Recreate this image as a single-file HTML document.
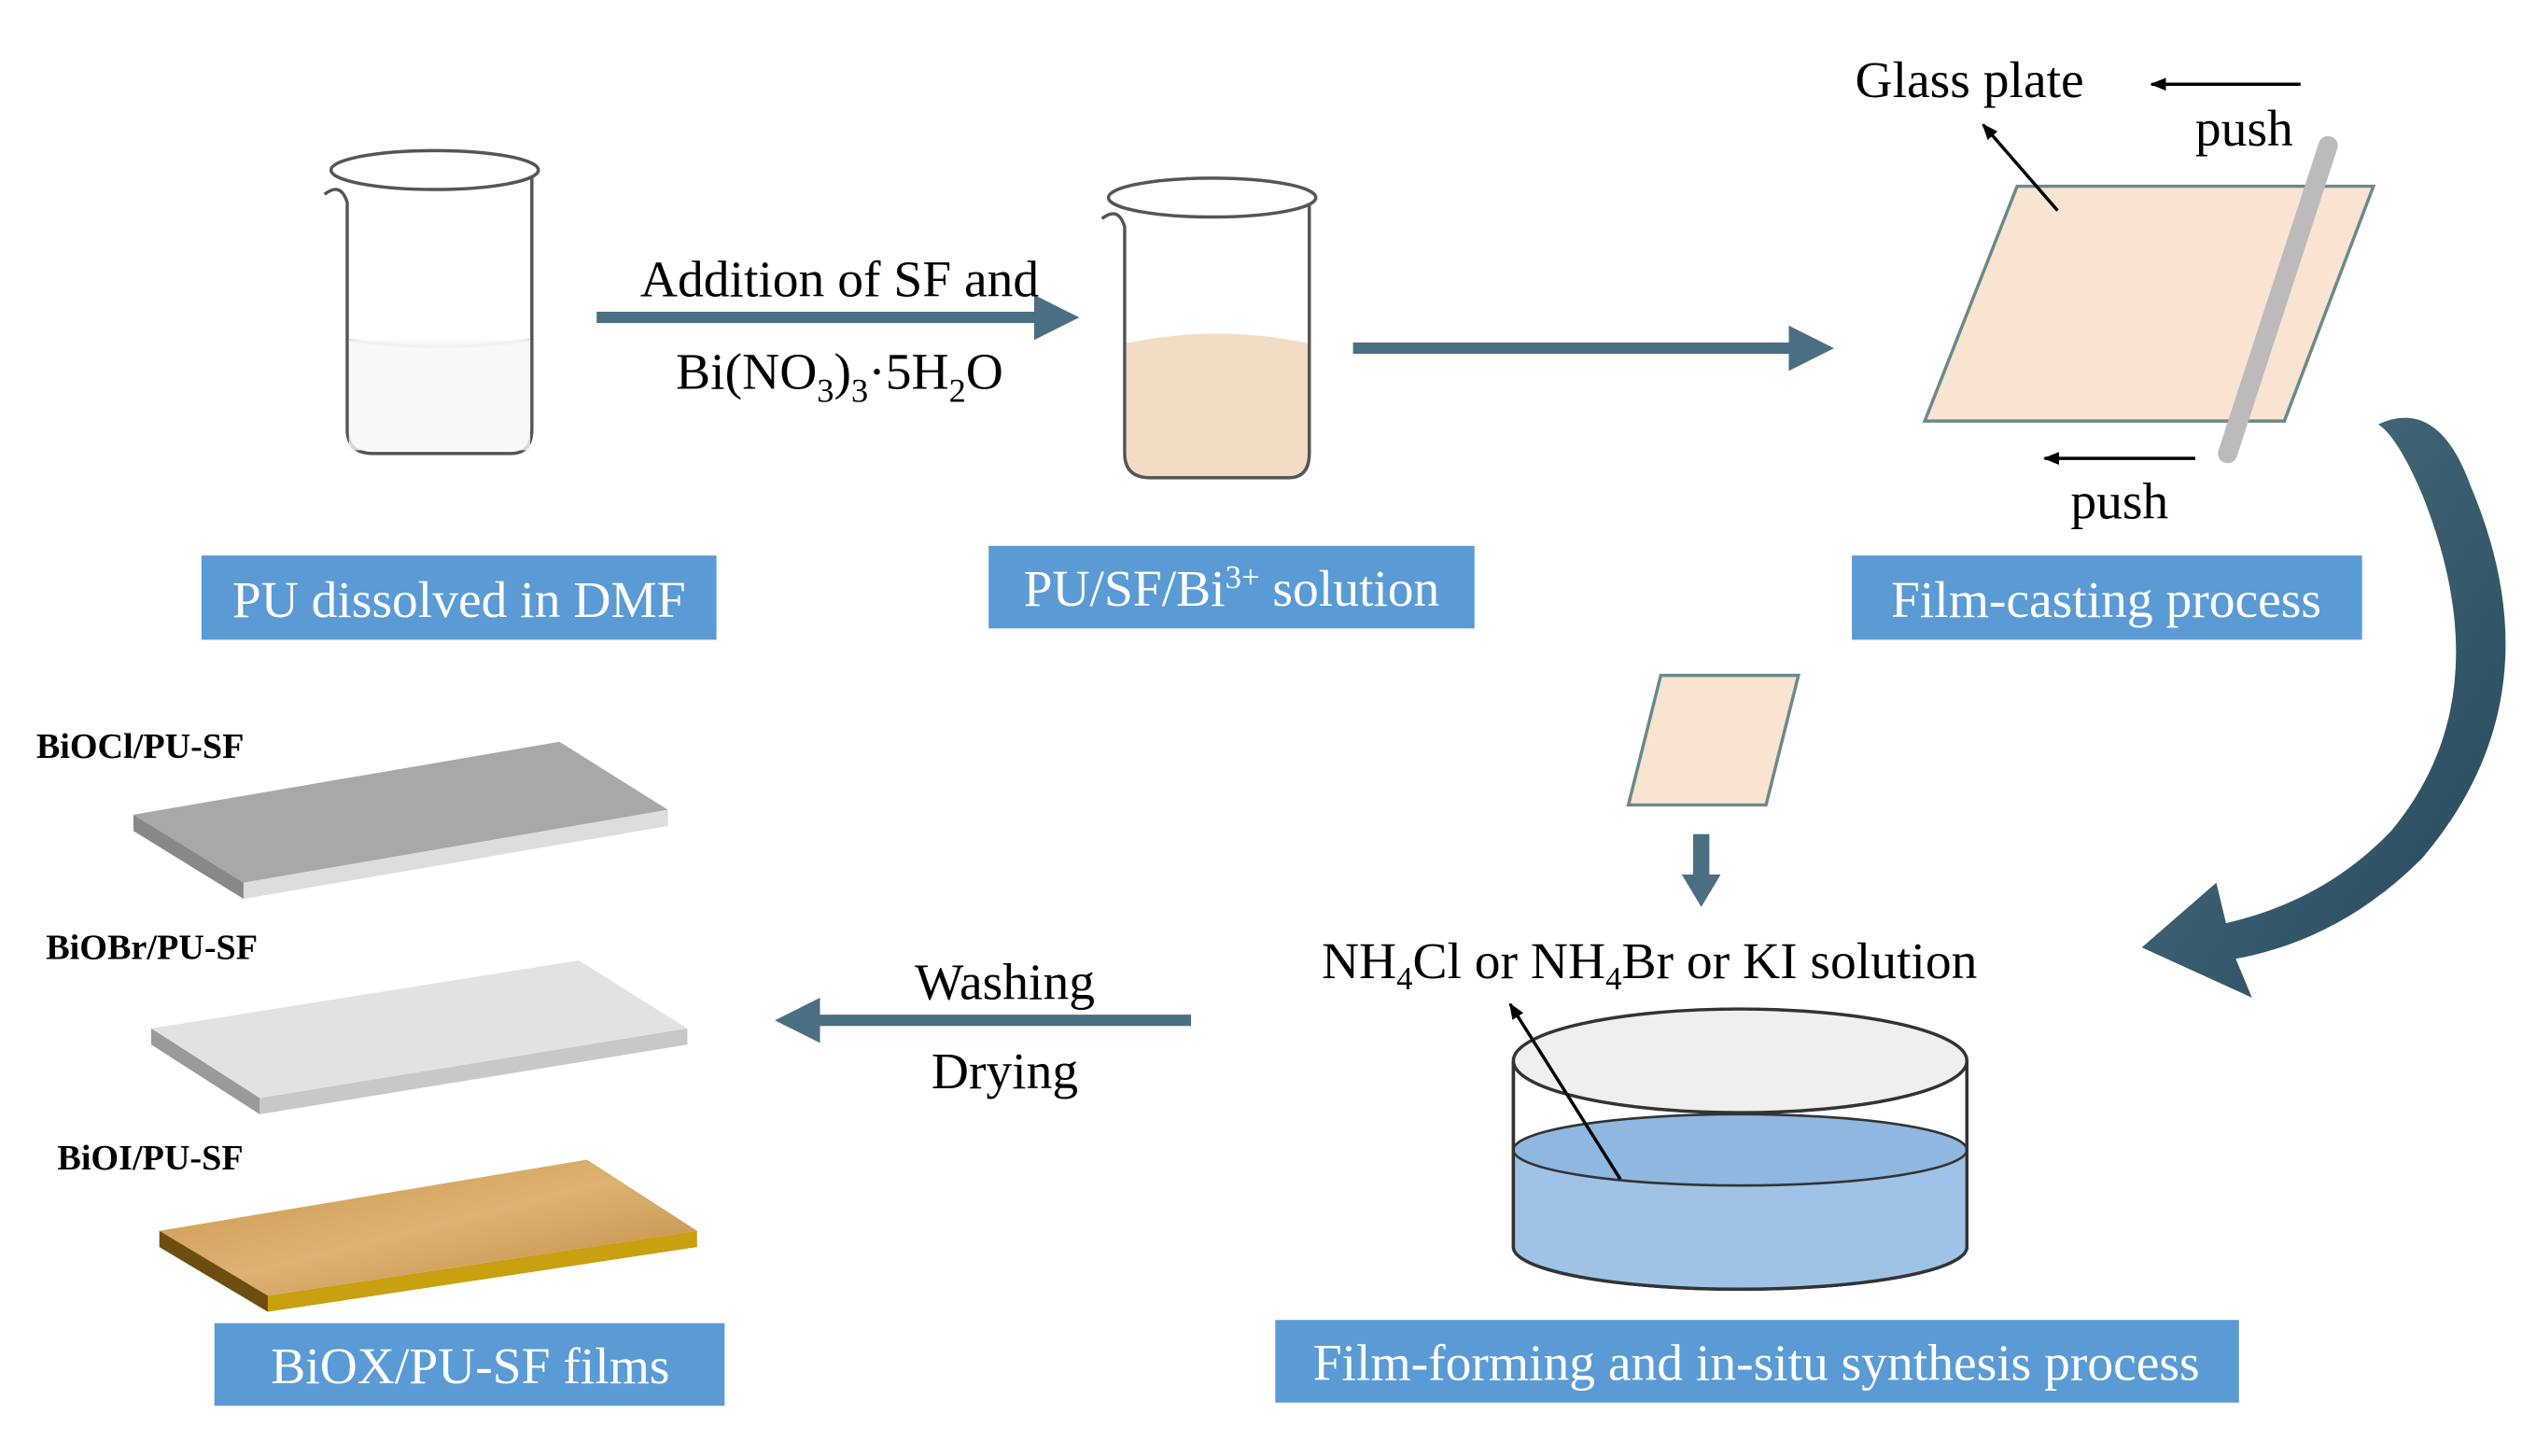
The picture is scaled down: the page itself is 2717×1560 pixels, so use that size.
<!DOCTYPE html>
<html><head><meta charset="utf-8"><style>
html,body{margin:0;padding:0;background:#fff;}
svg{display:block}
text{font-family:"Liberation Serif",serif;}
</style></head><body>
<svg width="2717" height="1560" viewBox="0 0 1565 899" xmlns="http://www.w3.org/2000/svg">
<defs>
<marker id="ah" markerWidth="4" markerHeight="4" refX="2" refY="2" orient="auto" markerUnits="strokeWidth"><path d="M0,0 L4,2 L0,4 z" fill="#4a6f82"/></marker>
<marker id="ak" markerWidth="10" markerHeight="8" refX="9" refY="4" orient="auto" markerUnits="userSpaceOnUse"><path d="M0,0 L10,4 L0,8 z" fill="#000"/></marker>
<linearGradient id="cg" x1="0" y1="0" x2="1" y2="1"><stop offset="0" stop-color="#4d7282"/><stop offset="1" stop-color="#24485a"/></linearGradient>
<linearGradient id="gold" x1="0" y1="0" x2="1" y2="1"><stop offset="0" stop-color="#c8954a"/><stop offset="0.5" stop-color="#ddb272"/><stop offset="1" stop-color="#b98a3e"/></linearGradient>
</defs>
<rect width="1565" height="899" fill="#fff"/>

<g stroke="#555" stroke-width="2" fill="none">
<path d="M200,120 Q210,112 214,125 L214,265 Q214,280 230,280 L315,280 Q328,280 328,265 L328,108"/>
<ellipse cx="268" cy="105" rx="64" ry="12" fill="#fff"/>
<path d="M215,210 Q270,218 327,210" stroke="#ddd"/>
</g>
<rect x="215" y="210" width="112" height="68" fill="#f6f6f6" opacity="0.8"/>
<g stroke="#555" stroke-width="2">
<path d="M695,212 L695,280 Q695,295 710,295 L795,295 Q808,295 808,280 L808,212 Q750,200 695,212 z" fill="#f3dcc4" stroke="none"/>
<path d="M680,135 Q690,127 694,140 L694,280 Q694,295 710,295 L795,295 Q808,295 808,280 L808,123" fill="none"/>
<ellipse cx="748" cy="122" rx="64" ry="12" fill="#fff"/>
</g>

<line x1="368" y1="196" x2="652" y2="196" stroke="#4a6f82" stroke-width="7" marker-end="url(#ah)"/>
<text x="518" y="183" font-size="32" text-anchor="middle">Addition of SF and</text>
<text x="518" y="240" font-size="32" text-anchor="middle">Bi(NO<tspan font-size="21" dy="8">3</tspan><tspan dy="-8">)</tspan><tspan font-size="21" dy="8">3</tspan><tspan dy="-8">·5H</tspan><tspan font-size="21" dy="8">2</tspan><tspan dy="-8">O</tspan></text>

<line x1="835" y1="215" x2="1118" y2="215" stroke="#4a6f82" stroke-width="7" marker-end="url(#ah)"/>

<rect x="124" y="343" width="318" height="52" fill="#5b9bd5"/>
<text x="283" y="381" font-size="32" fill="#fff" text-anchor="middle">PU dissolved in DMF</text>
<rect x="610" y="337" width="300" height="51" fill="#5b9bd5"/>
<text x="760" y="374" font-size="32" fill="#fff" text-anchor="middle">PU/SF/Bi<tspan font-size="20" dy="-11">3+</tspan><tspan dy="11"> solution</tspan></text>
<rect x="1143" y="343" width="315" height="52" fill="#5b9bd5"/>
<text x="1300" y="381" font-size="32" fill="#fff" text-anchor="middle">Film-casting process</text>

<polygon points="1245,115 1465,115 1410,260 1188,260" fill="#f8e4d0" stroke="#6a8a8a" stroke-width="2"/>
<line x1="1437" y1="90" x2="1375" y2="280" stroke="#bbb" stroke-width="12" stroke-linecap="round"/>
<text x="1145" y="60" font-size="32">Glass plate</text>
<line x1="1270" y1="130" x2="1224" y2="77" stroke="#000" stroke-width="2" marker-end="url(#ak)"/>
<line x1="1420" y1="52" x2="1328" y2="52" stroke="#000" stroke-width="2" marker-end="url(#ak)"/>
<text x="1355" y="90" font-size="32">push</text>
<line x1="1355" y1="283" x2="1262" y2="283" stroke="#000" stroke-width="2" marker-end="url(#ak)"/>
<text x="1278" y="320" font-size="32">push</text>

<path d="M1468,262 Q1505,245 1525,300 Q1580,430 1495,530 Q1445,580 1380,592 L1390,616 L1322,585 L1368,545 L1374,570 Q1435,556 1476,513 Q1545,430 1495,305 Q1480,270 1468,262 z" fill="url(#cg)"/>

<polygon points="1025,417 1110,417 1090,497 1005,497" fill="#f8e4d0" stroke="#6a8a8a" stroke-width="2"/>
<rect x="1045" y="515" width="10" height="26" fill="#4a6f82"/>
<polygon points="1038,540 1062,540 1050,560" fill="#4a6f82"/>

<text x="1018" y="604" font-size="32" text-anchor="middle">NH<tspan font-size="20" dy="7">4</tspan><tspan dy="-7">Cl or NH</tspan><tspan font-size="20" dy="7">4</tspan><tspan dy="-7">Br or KI solution</tspan></text>

<path d="M934,655 L934,770 A140,26 0 0 0 1214,770 L1214,655" fill="#fff" stroke="#333" stroke-width="2"/>
<path d="M934,710 L934,770 A140,26 0 0 0 1214,770 L1214,710 z" fill="#9fc3e6"/>
<ellipse cx="1074" cy="710" rx="140" ry="22" fill="#8fb8e0" stroke="#333" stroke-width="1.5"/>
<path d="M934,655 L934,770 A140,26 0 0 0 1214,770 L1214,655" fill="none" stroke="#333" stroke-width="2"/>
<ellipse cx="1074" cy="655" rx="140" ry="32" fill="#e4e4e4" fill-opacity="0.6" stroke="#333" stroke-width="2"/>
<line x1="1000" y1="728" x2="932" y2="620" stroke="#000" stroke-width="2" marker-end="url(#ak)"/>

<rect x="787" y="815" width="595" height="51" fill="#5b9bd5"/>
<text x="1084" y="852" font-size="32" fill="#fff" text-anchor="middle">Film-forming and in-situ synthesis process</text>

<line x1="735" y1="630" x2="492" y2="630" stroke="#4a6f82" stroke-width="7" marker-end="url(#ah)"/>
<text x="620" y="617" font-size="32" text-anchor="middle">Washing</text>
<text x="620" y="672" font-size="32" text-anchor="middle">Drying</text>

<text x="22" y="468" font-size="22" font-weight="bold">BiOCl/PU-SF</text>
<polygon points="82,503 345,458 412,500 150,545" fill="#a8a8a8"/>
<polygon points="82,503 150,545 150,555 82,513" fill="#888"/>
<polygon points="150,545 412,500 412,510 150,555" fill="#ddd"/>

<text x="28" y="592" font-size="22" font-weight="bold">BiOBr/PU-SF</text>
<polygon points="93,635 357,593 424,635 160,678" fill="#e2e2e2"/>
<polygon points="93,635 160,678 160,688 93,645" fill="#9a9a9a"/>
<polygon points="160,678 424,635 424,645 160,688" fill="#c8c8c8"/>

<text x="35" y="722" font-size="22" font-weight="bold">BiOI/PU-SF</text>
<polygon points="98,760 362,716 430,760 165,800" fill="url(#gold)"/>
<polygon points="98,760 165,800 165,810 98,770" fill="#6e4d10"/>
<polygon points="165,800 430,760 430,770 165,810" fill="#c8a010"/>

<rect x="132" y="817" width="315" height="51" fill="#5b9bd5"/>
<text x="290" y="854" font-size="32" fill="#fff" text-anchor="middle">BiOX/PU-SF films</text>
</svg>
</body></html>
